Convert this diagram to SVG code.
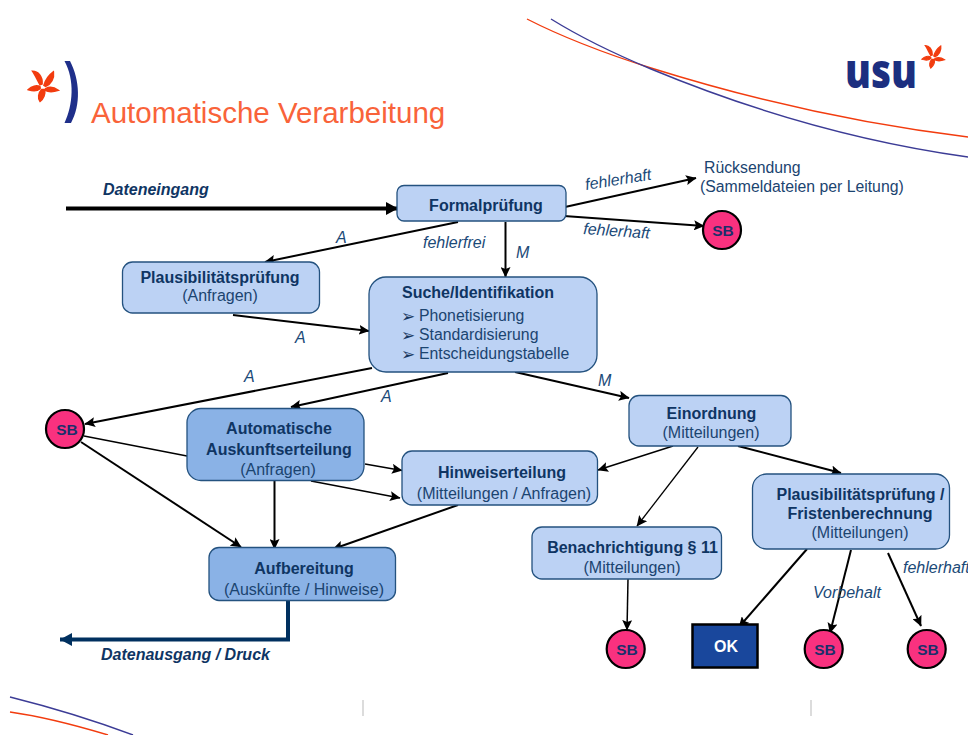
<svg xmlns="http://www.w3.org/2000/svg" width="968" height="735" viewBox="0 0 968 735">
<style>
text{font-family:"Liberation Sans",Arial,sans-serif;fill:#1b4470}
.t{font-size:16px;text-anchor:middle}
.l{font-size:15.800px}
.g{font-family:"DejaVu Sans",sans-serif;font-size:17px;fill:#17375e}
.b{font-size:16px;font-weight:bold;text-anchor:middle;fill:#0f3563}
.i{font-size:16px;font-style:italic;fill:#1b4a78}
.h{font-size:16px;font-style:italic;font-weight:bold;fill:#0f3563}
.n{fill:#bcd2f4;stroke:#24527f;stroke-width:1.3}
.d{fill:#8ab2e6;stroke:#24527f;stroke-width:1.3}
.s circle{fill:#f9317f;stroke:#000;stroke-width:2.2}
.s text{font-size:15.500px;font-weight:bold;text-anchor:middle;fill:#1c2f6b}
.c line,.c path{stroke:#000;fill:none;stroke-width:2}
.swoosh{fill:none;stroke-width:1.4}
.star{fill:#f23c0f;stroke:#f23c0f;stroke-width:5}
</style>
<defs>
<marker id="a" markerUnits="userSpaceOnUse" markerWidth="11" markerHeight="10" refX="10" refY="5" orient="auto"><path d="M0 0L10.500 5L0 10L2 5Z" fill="#000"/></marker>
<marker id="big" markerUnits="userSpaceOnUse" markerWidth="12" markerHeight="13" refX="11" refY="6.500" orient="auto"><path d="M0 0L12 6.500L0 13Z" fill="#000"/></marker>
<marker id="out" markerUnits="userSpaceOnUse" markerWidth="13" markerHeight="13" refX="12" refY="6.500" orient="auto"><path d="M0 0L12 6.500L0 13Z" fill="#00305f"/></marker>
<path id="petals" d="M7-8C12-25 24-40 35-48C38-30 28-12 12-5ZM-5-10C-12-22 -20-40 -27-50C-12-50 3-35 1-12ZM-5-3C-15-10 -30-5 -40 5C-25 10 -12 8 -5 2ZM0 5C-10 15 -12 30 -5 40C5 32 12 18 8 5ZM12 2C25-5 40 0 50 7C35 12 20 12 10 7Z"/>
</defs>
<g id="decor">
<path class="swoosh" stroke="#f23c0f" d="M527 19C568 40 610 55 651 68C750 99 860 124 968 137"/>
<path class="swoosh" stroke="#3c3c96" d="M551 19C580 37 615 54 651 69C750 110 860 142 968 157"/>
<path class="swoosh" stroke="#3c3c96" d="M10 697C50 707 85 717 133 735"/>
<path class="swoosh" stroke="#f23c0f" d="M10 712C45 717 75 725 108 735"/>
<rect x="362" y="700" width="2" height="16" fill="#dcdcdc"/>
<rect x="810" y="700" width="2" height="16" fill="#dcdcdc"/>
<use href="#petals" class="star" transform="translate(41.700 88) scale(.333)"/>
<path d="M64.500 61L70 61C80 80 81 105 71 123L64.500 123C73 105 75 80 64.500 61Z" fill="#1f2f8a"/>
<use href="#petals" class="star" transform="translate(932 58) scale(.25)"/>
<text x="845" y="88" style="font-family:'Open Sans',sans-serif;font-size:48px;font-weight:800;fill:#1c2f80" textLength="72" lengthAdjust="spacingAndGlyphs">usu</text>
<text x="91" y="123" style="font-size:29.500px;fill:#f9633a">Automatische Verarbeitung</text>
</g>
<g id="connectors" class="c">
<line x1="66" y1="208.500" x2="397" y2="208.500" style="stroke-width:4" marker-end="url(#big)"/>
<path d="M288 600.500V639.500H60" style="stroke:#00305f;stroke-width:4" marker-end="url(#out)"/>
<line x1="565" y1="207" x2="696" y2="178" marker-end="url(#a)"/>
<line x1="564" y1="216" x2="704" y2="226" marker-end="url(#a)"/>
<line x1="458" y1="222" x2="265" y2="262" marker-end="url(#a)"/>
<line x1="505.500" y1="222" x2="505.500" y2="277" marker-end="url(#a)"/>
<line x1="233" y1="315" x2="369" y2="331" marker-end="url(#a)"/>
<line x1="372" y1="368" x2="85" y2="424" marker-end="url(#a)"/>
<line x1="448" y1="373" x2="291" y2="407" marker-end="url(#a)"/>
<line x1="515" y1="372" x2="629" y2="398" marker-end="url(#a)"/>
<line x1="84" y1="436" x2="187" y2="456" style="stroke-width:1.300"/>
<line x1="81" y1="442" x2="241" y2="547" marker-end="url(#a)"/>
<line x1="274.500" y1="481" x2="274.500" y2="549" marker-end="url(#a)"/>
<line x1="365" y1="464" x2="402" y2="470.500" style="stroke-width:1.500" marker-end="url(#a)"/>
<line x1="311" y1="481" x2="400" y2="498" style="stroke-width:1.500" marker-end="url(#a)"/>
<line x1="458" y1="505" x2="333" y2="549" marker-end="url(#a)"/>
<line x1="673" y1="446" x2="598" y2="470" style="stroke-width:1.500" marker-end="url(#a)"/>
<line x1="698" y1="447" x2="637" y2="526" style="stroke-width:1.300" marker-end="url(#a)"/>
<line x1="738" y1="446" x2="841" y2="473" marker-end="url(#a)"/>
<line x1="628" y1="579" x2="627" y2="630" style="stroke-width:1.500" marker-end="url(#a)"/>
<line x1="807" y1="549" x2="739" y2="627" marker-end="url(#a)"/>
<line x1="851" y1="550" x2="830" y2="633" marker-end="url(#a)"/>
<line x1="888" y1="553" x2="921" y2="626" marker-end="url(#a)"/>
</g>
<g id="formal"><rect class="n" x="397" y="185.500" width="169" height="35.500" rx="7"/><text class="b" x="486" y="211">Formalprüfung</text></g>
<g id="plausi1"><rect class="n" x="122.500" y="262" width="197" height="51" rx="10"/><text class="b" x="220" y="283">Plausibilitätsprüfung</text><text class="t" x="220" y="301">(Anfragen)</text></g>
<g id="suche"><rect class="n" x="369" y="277" width="228" height="95" rx="17"/><text class="b" x="478" y="298">Suche/Identifikation</text>
<text class="g" x="401" y="322">➢</text><text class="l" x="419" y="321">Phonetisierung</text>
<text class="g" x="401" y="341">➢</text><text class="l" x="419" y="340">Standardisierung</text>
<text class="g" x="401" y="360">➢</text><text class="l" x="419" y="359">Entscheidungstabelle</text></g>
<g id="auto"><rect class="d" x="187" y="408.500" width="177" height="72" rx="14"/><text class="b" x="279" y="434">Automatische</text><text class="b" x="279" y="455">Auskunftserteilung</text><text class="t" x="278" y="475">(Anfragen)</text></g>
<g id="hinweis"><rect class="n" x="402" y="451" width="195.500" height="54" rx="10"/><text class="b" x="502" y="478">Hinweiserteilung</text><text class="t" x="504" y="499">(Mitteilungen / Anfragen)</text></g>
<g id="einordnung"><rect class="n" x="629" y="395.500" width="162" height="50.500" rx="10"/><text class="b" x="711.500" y="419">Einordnung</text><text class="t" x="711" y="438">(Mitteilungen)</text></g>
<g id="plausi2"><rect class="n" x="752.500" y="474" width="197" height="75" rx="14"/><text class="b" x="860.500" y="500">Plausibilitätsprüfung /</text><text class="b" x="860" y="519">Fristenberechnung</text><text class="t" x="860" y="538">(Mitteilungen)</text></g>
<g id="benach"><rect class="n" x="532" y="527" width="189.500" height="52" rx="10"/><text class="b" x="632.500" y="553">Benachrichtigung § 11</text><text class="t" x="632" y="573">(Mitteilungen)</text></g>
<g id="aufbereitung"><rect class="d" x="209" y="547.500" width="186.500" height="53" rx="10"/><text class="b" x="304" y="574">Aufbereitung</text><text class="t" x="304" y="595">(Auskünfte / Hinweise)</text></g>
<g id="sb1" class="s"><circle cx="65" cy="429" r="19"/><text x="67" y="435">SB</text></g>
<g id="sb2" class="s"><circle cx="722" cy="230" r="19"/><text x="723" y="236">SB</text></g>
<g id="sb3" class="s"><circle cx="625.700" cy="649" r="19"/><text x="627" y="655">SB</text></g>
<g id="sb4" class="s"><circle cx="823.700" cy="649" r="19"/><text x="825" y="655">SB</text></g>
<g id="sb5" class="s"><circle cx="926.700" cy="649" r="19"/><text x="928" y="655">SB</text></g>
<g id="ok"><rect x="692.500" y="624.500" width="65" height="43" fill="#19479c" stroke="#000" stroke-width="2.500"/><text x="726" y="652" style="font-size:16px;font-weight:bold;fill:#fff;text-anchor:middle">OK</text></g>
<g id="labels">
<text class="h" x="103" y="195">Dateneingang</text>
<text class="h" x="101" y="660">Datenausgang / Druck</text>
<text class="l" x="704" y="173">Rücksendung</text>
<text class="l" x="700" y="192">(Sammeldateien per Leitung)</text>
<text class="i" transform="translate(586 190) rotate(-9)">fehlerhaft</text>
<text class="i" transform="translate(583 234) rotate(4)">fehlerhaft</text>
<text class="i" x="423" y="248">fehlerfrei</text>
<text class="i" x="336" y="243">A</text><text class="i" x="516" y="258">M</text>
<text class="i" x="295" y="343">A</text><text class="i" x="244" y="382">A</text><text class="i" x="381" y="402">A</text><text class="i" x="598" y="386">M</text>
<text class="i" x="813" y="598">Vorbehalt</text>
<text class="i" x="903" y="573">fehlerhaft</text>
</g>
</svg>
